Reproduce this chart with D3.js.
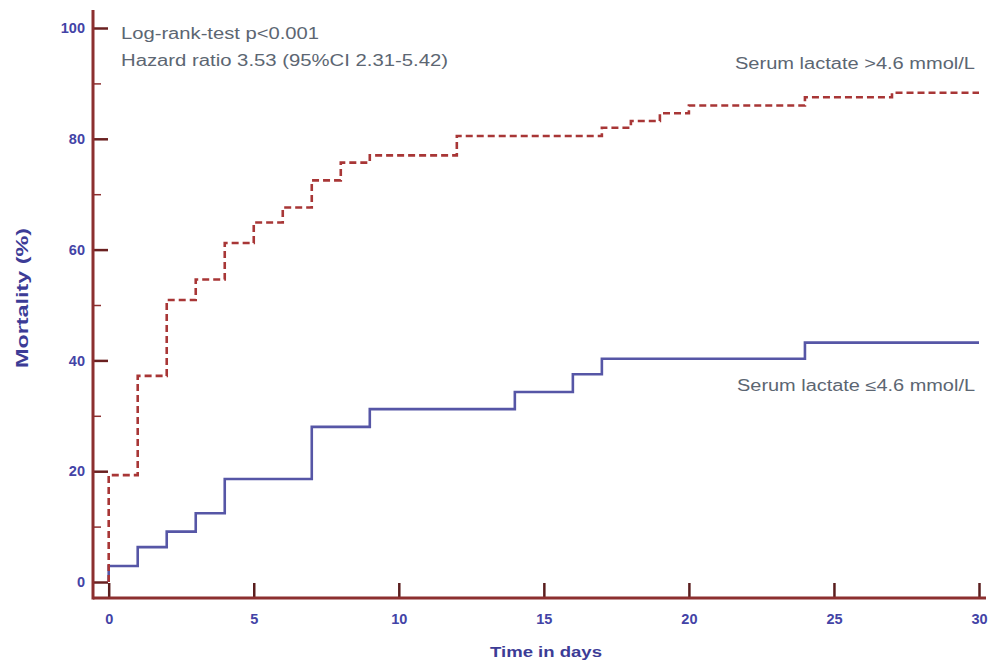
<!DOCTYPE html>
<html>
<head>
<meta charset="utf-8">
<script src="https://cdn.jsdelivr.net/npm/d3@7"></script>
<style>
  html, body { margin: 0; padding: 0; background: #fff; }
  svg { display: block; }
</style>
</head>
<body>
<svg id="chart" width="990" height="663"></svg>
<script>
// ---- Data ----
const highTimes  = [0, 0, 1, 2, 3, 4, 5, 6, 7, 8, 9, 12, 17, 18, 19, 20, 24, 27, 30];
const highValues = [0, 19.3, 37.2, 50.9, 54.6, 61.2, 64.9, 67.6, 72.5, 75.7, 77.0, 80.5, 82.0, 83.2, 84.6, 86.0, 87.5, 88.3, 88.3];
const lowTimes   = [0, 0, 1, 2, 3, 4, 7, 9, 14, 16, 17, 24, 30];
const lowValues  = [0, 2.9, 6.3, 9.1, 12.4, 18.6, 28.0, 31.2, 34.3, 37.5, 40.3, 43.2, 43.2];
const xTicks = [0, 5, 10, 15, 20, 25, 30];
const yTicks = [0, 20, 40, 60, 80, 100];
const yMinorTicks = [10, 30, 50, 70, 90];
const seriesLabels = ["Serum lactate >4.6 mmol/L", "Serum lactate \u22644.6 mmol/L"];
const statLines = ["Log-rank-test p<0.001", "Hazard ratio 3.53 (95%CI 2.31-5.42)"];
const xTitle = "Time in days";
const yTitle = "Mortality (%)";

// ---- Layout ----
const svg = d3.select("#chart");
const axisColor = "#8c2f2f";
const tickTextColor = "#4343a6";
const redColor = "#a83636";
const blueColor = "#5656a6";
const noteColor = "#5c6672";
const font = "Liberation Sans, Arial, sans-serif";

const x = d3.scaleLinear().domain([0, 30]).range([108.7, 979]);
const y = d3.scaleLinear().domain([0, 100]).range([582, 28]);
const axisX = 93, axisY = 598;

// Y axis (major)
const yAxis = d3.axisLeft(y).tickValues(yTicks).tickSizeInner(-15).tickSizeOuter(0).tickPadding(8);
const gy = svg.append("g").attr("transform", `translate(${axisX},0)`).call(yAxis);
gy.select(".domain").remove();
gy.selectAll(".tick line").attr("stroke", "#6a2020").attr("stroke-width", 2.5);
gy.selectAll(".tick text").attr("fill", tickTextColor)
  .style("font-family", font).style("font-size", "14.5px").style("font-weight", "bold");

// Y axis (minor)
const yMinor = d3.axisLeft(y).tickValues(yMinorTicks).tickSizeInner(-8).tickSizeOuter(0).tickFormat("");
const gym = svg.append("g").attr("transform", `translate(${axisX},0)`).call(yMinor);
gym.select(".domain").remove();
gym.selectAll(".tick line").attr("stroke", axisColor).attr("stroke-width", 1.5);

// X axis
const xAxis = d3.axisBottom(x).tickValues(xTicks).tickSizeInner(-15).tickSizeOuter(0).tickPadding(16);
const gx = svg.append("g").attr("transform", `translate(0,${axisY})`).call(xAxis);
gx.select(".domain").remove();
gx.selectAll(".tick line").attr("stroke", "#5a1e1e").attr("stroke-width", 2.5);
gx.selectAll(".tick text").attr("fill", tickTextColor)
  .style("font-family", font).style("font-size", "14.5px").style("font-weight", "bold");

// Axis lines
svg.append("line").attr("x1", axisX).attr("x2", axisX).attr("y1", 10).attr("y2", axisY + 1.5)
  .attr("stroke", axisColor).attr("stroke-width", 3);
svg.append("line").attr("x1", axisX).attr("x2", 986).attr("y1", axisY).attr("y2", axisY)
  .attr("stroke", axisColor).attr("stroke-width", 3);

// Curves
const line = d3.line().x(d => x(d[0])).y(d => y(d[1])).curve(d3.curveStepAfter);
const highData = highTimes.map((t, i) => [t, highValues[i]]);
const lowData = lowTimes.map((t, i) => [t, lowValues[i]]);

svg.append("path").datum(lowData).attr("d", line)
  .attr("fill", "none").attr("stroke", blueColor).attr("stroke-width", 2.6);
svg.append("path").datum(highData).attr("d", line)
  .attr("fill", "none").attr("stroke", redColor).attr("stroke-width", 2.6)
  .attr("stroke-dasharray", "7,4");

// Annotations
svg.append("text").attr("x", 121).attr("y", 39).text(statLines[0])
  .attr("fill", noteColor).style("font-family", font).style("font-size", "16px")
  .attr("textLength", 198).attr("lengthAdjust", "spacingAndGlyphs");
svg.append("text").attr("x", 121).attr("y", 66).text(statLines[1])
  .attr("fill", noteColor).style("font-family", font).style("font-size", "16px")
  .attr("textLength", 327).attr("lengthAdjust", "spacingAndGlyphs");
svg.append("text").attr("x", 735).attr("y", 69).text(seriesLabels[0])
  .attr("fill", noteColor).style("font-family", font).style("font-size", "16px")
  .attr("textLength", 240).attr("lengthAdjust", "spacingAndGlyphs");
svg.append("text").attr("x", 737).attr("y", 391).text(seriesLabels[1])
  .attr("fill", noteColor).style("font-family", font).style("font-size", "16px")
  .attr("textLength", 238).attr("lengthAdjust", "spacingAndGlyphs");

// Axis titles
svg.append("text").attr("x", 546).attr("y", 657).attr("text-anchor", "middle").text(xTitle)
  .attr("fill", "#3c3c96").style("font-family", font).style("font-size", "15px").style("font-weight", "bold")
  .attr("textLength", 112).attr("lengthAdjust", "spacingAndGlyphs");
svg.append("text").attr("transform", "translate(28,298) rotate(-90)").attr("text-anchor", "middle").text(yTitle)
  .attr("fill", "#3c3c96").style("font-family", font).style("font-size", "16px").style("font-weight", "bold")
  .attr("textLength", 140).attr("lengthAdjust", "spacingAndGlyphs");
</script>
</body>
</html>
